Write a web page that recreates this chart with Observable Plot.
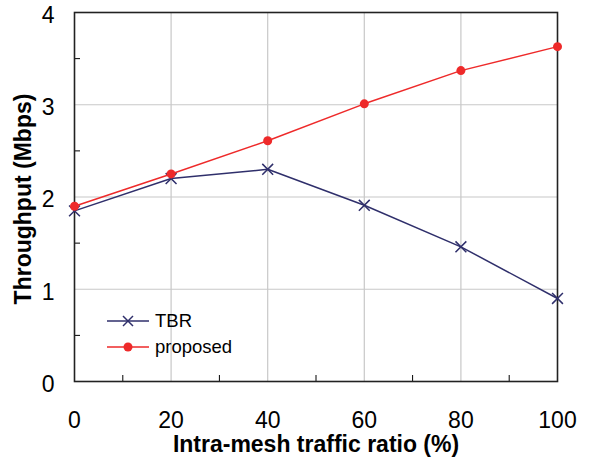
<!DOCTYPE html>
<html><head><meta charset="utf-8">
<script src="https://cdn.jsdelivr.net/npm/d3@7"></script>
<script src="https://cdn.jsdelivr.net/npm/@observablehq/plot@0.6"></script>
<style>
body{margin:0;background:#fff;font-family:"Liberation Sans",Arial,sans-serif;}
#wrap{position:relative;width:593px;height:459px;}
#legend{position:absolute;left:107px;top:308px;font-size:18.5px;color:#000;}
#legend div{display:flex;align-items:center;height:26px;}
#legend svg{margin-right:6px;}
</style>
</head><body>
<div id="wrap"><div id="chart"></div>
<div id="legend"></div></div>
<script>
const ratio = [0, 20, 40, 60, 80, 100];
const tbr = [1.85, 2.20, 2.30, 1.91, 1.46, 0.90];
const proposed = [1.90, 2.25, 2.61, 3.01, 3.37, 3.63];
const xTicks = [0, 20, 40, 60, 80, 100];
const yTicks = [0, 1, 2, 3, 4];
const xMinor = [10, 30, 50, 70, 90];
const yMinor = [0.5, 1.5, 2.5, 3.5];
const seriesNames = ["TBR", "proposed"];
const colors = ["#2f2f6b", "#ee2a2a"];

const tbrData = ratio.map((x, i) => ({x, y: tbr[i]}));
const propData = ratio.map((x, i) => ({x, y: proposed[i]}));

const chart = Plot.plot({
  width: 593, height: 459,
  marginLeft: 74, marginRight: 36, marginTop: 12, marginBottom: 78,
  style: {fontFamily: "Liberation Sans, Arial, sans-serif", background: "#fff"},
  x: {domain: [0, 100]},
  y: {domain: [0, 4]},
  marks: [
    Plot.gridX([20, 40, 60, 80], {stroke: "#c8c8c8", strokeOpacity: 1, strokeWidth: 1.2}),
    Plot.gridY([1, 2, 3], {stroke: "#c8c8c8", strokeOpacity: 1, strokeWidth: 1.2}),
    Plot.axisX(xTicks, {tickSize: 0, tickPadding: 30, fontSize: 23, label: null, fill: "#000", tickFormat: "d"}),
    Plot.axisY(yTicks, {tickSize: 0, tickPadding: 20, fontSize: 23, label: null, fill: "#000", tickFormat: "d", dy: 3}),
    Plot.axisX(xMinor, {tickSize: 6, dy: -6, text: null, label: null, stroke: "#000"}),
    Plot.axisY(yMinor, {tickSize: 6, dx: 6, text: null, label: null, stroke: "#000"}),
    Plot.frame({stroke: "#222", strokeWidth: 1.6}),
    Plot.line(tbrData, {x: "x", y: "y", stroke: colors[0], strokeWidth: 1.5}),
    Plot.dot(tbrData, {x: "x", y: "y", symbol: "times", r: 5, stroke: colors[0], strokeWidth: 1.5}),
    Plot.line(propData, {x: "x", y: "y", stroke: colors[1], strokeWidth: 1.5}),
    Plot.dot(propData, {x: "x", y: "y", r: 4.5, fill: colors[1], stroke: "none"}),
    Plot.text(["Intra-mesh traffic ratio (%)"], {frameAnchor: "bottom", textAnchor: "middle", lineAnchor: "middle", dy: 63, fontSize: 23, fontWeight: "bold", fill: "#000"}),
    Plot.text(["Throughput (Mbps)"], {frameAnchor: "left", textAnchor: "middle", lineAnchor: "middle", dx: -51, dy: 2, rotate: -90, fontSize: 23, fontWeight: "bold", fill: "#000"})
  ]
});
document.getElementById("chart").appendChild(chart);

// legend
const legend = document.getElementById("legend");
seriesNames.forEach((name, i) => {
  const row = document.createElement("div");
  const sym = i === 0
    ? `<line x1="16" y1="-5" x2="26" y2="5" stroke="${colors[i]}" stroke-width="1.5"/><line x1="16" y1="5" x2="26" y2="-5" stroke="${colors[i]}" stroke-width="1.5"/>`
    : `<circle cx="21" cy="0" r="4.5" fill="${colors[i]}"/>`;
  row.innerHTML = `<svg width="42" height="14" viewBox="0 -7 42 14"><line x1="0" y1="0" x2="42" y2="0" stroke="${colors[i]}" stroke-width="1.5"/>${sym}</svg><span>${name}</span>`;
  legend.appendChild(row);
});
</script>
</body></html>
